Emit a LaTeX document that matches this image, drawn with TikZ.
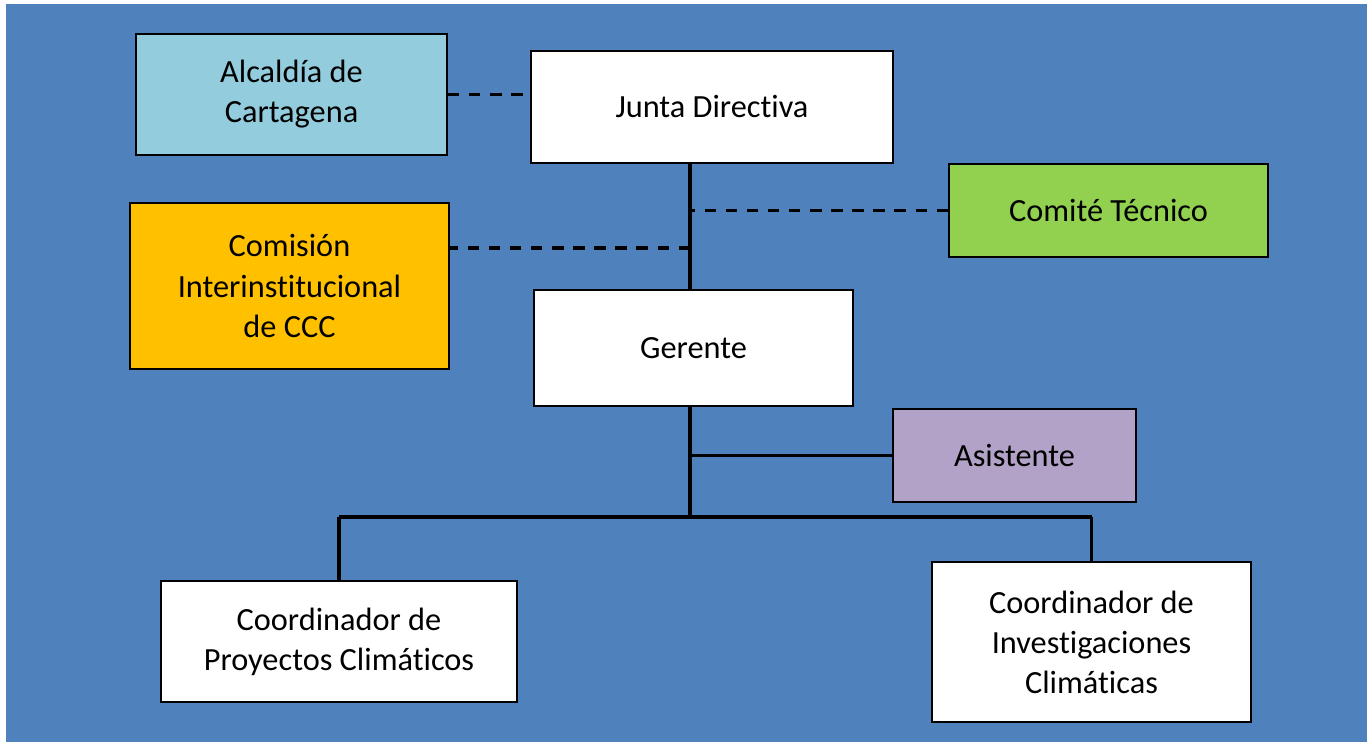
\documentclass[tikz,border=0pt]{standalone}
\usepackage{fontspec}
\setmainfont{Carlito}[Ligatures=NoCommon]
\usetikzlibrary{positioning}
\definecolor{page}{HTML}{4F81BD}
\definecolor{aqua}{HTML}{93CDDD}
\definecolor{gold}{HTML}{FFC000}
\definecolor{lime}{HTML}{92D050}
\definecolor{lilac}{HTML}{B2A2C7}
% t without the "ti" ligature
\newcommand{\tsep}{t\kern0pt\relax}
\tikzset{
  font=\fontsize{18.4}{22.8}\selectfont,
  %
  box/.style={
    draw=black, line width=1.1pt, fill=white, align=center,
    inner sep=4pt, text=black,
  },
  boxa/.style={box, fill=aqua},
  boxg/.style={box, fill=gold},
  boxl/.style={box, fill=lime},
  boxp/.style={box, fill=lilac},
  %
  trunk/.style={draw=black, line width=1.8pt},
  dashline/.style={trunk, dash pattern=on 6.5pt off 5.5pt},
}
\begin{document}
\begin{tikzpicture}[x=0.02cm, y=-0.02cm]

\useasboundingbox (0,0) rectangle (1367,742);
\fill[page] (6,4) rectangle (1367,742);

% ---------------------------------------------------------------- top
\node[boxa, minimum width=6.22cm, minimum height=2.42cm] (alc) at (291.5,94.5)
  {Alcaldía de\\Cartagena};
\node[box, minimum width=7.24cm, minimum height=2.24cm] (junta) at (712,107)
  {Junta Direc\tsep iva};
\node[boxl, minimum width=6.38cm, minimum height=1.86cm] (comite) at (1108.5,210.5)
  {Comité Técnico};
\node[boxg, minimum width=6.38cm, minimum height=3.32cm] (comision) at (289.5,286)
  {Comisión\\Interins\tsep itucional\\de CCC};

% ------------------------------------------------------------- middle
\node[box, minimum width=6.38cm, minimum height=2.32cm] (gerente) at (693.5,348)
  {Gerente};
\node[boxp, minimum width=4.86cm, minimum height=1.86cm] (asist) at (1014.5,455.5)
  {Asistente};

% ------------------------------------------------------------- bottom
\node[box, minimum width=7.12cm, minimum height=2.42cm] (coordp) at (339,641.5)
  {Coordinador de\\Proyectos Climá\tsep icos};
\node[box, minimum width=6.38cm, minimum height=3.2cm] (coordi) at (1091.5,642)
  {Coordinador de\\Investigaciones\\Climá\tsep icas};

\coordinate (cm) at (690,248);
\coordinate (bar) at (690,517);

\draw[dashline] (alc.east) -- (alc.east -| junta.west);
\draw[trunk] (junta.south -| cm) -- (gerente.north -| cm);
\draw[dashline] (comite.west) -- (comite.west -| cm);
\draw[dashline] (cm) -- (cm -| comision.east);

\draw[trunk] (gerente.south -| bar) -- (bar);
\draw[trunk] (asist.west) -- (asist.west -| bar);
\draw[trunk] (coordp.north |- bar) -- (coordi.north |- bar);
\draw[trunk] (coordp.north |- bar) -- (coordp.north);
\draw[trunk] (coordi.north |- bar) -- (coordi.north);

\end{tikzpicture}
\end{document}
